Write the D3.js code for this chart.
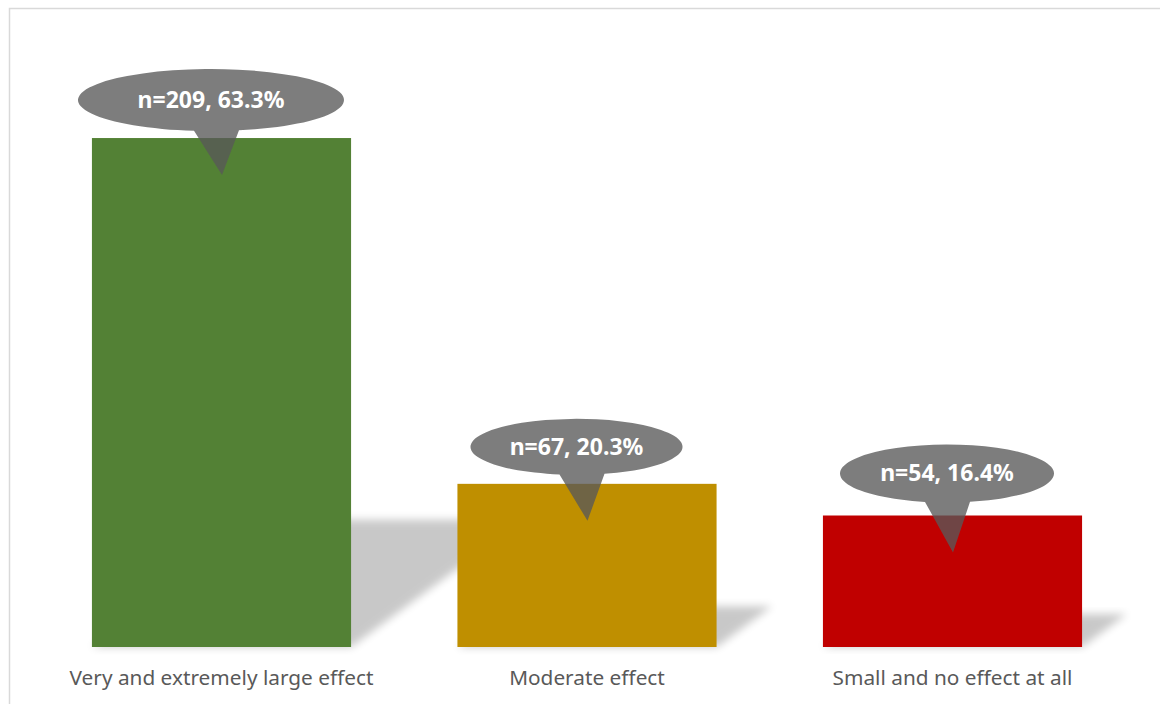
<!DOCTYPE html>
<html>
<head>
<meta charset="utf-8">
<script src="https://cdn.jsdelivr.net/npm/d3@7"></script>
<style>
  body { margin: 0; background: #fff; }
  svg { display: block; }
</style>
</head>
<body>
<div id="container"></div>
<script>
/* DATA */
const categories = ["Very and extremely large effect", "Moderate effect", "Small and no effect at all"];
const counts = [209, 67, 54];
const percents = [63.3, 20.3, 16.4];
const barColors = ["#538135", "#BF8F00", "#C00000"];

/* CONSTANTS */
const width = 1160;
const height = 704;
const baseline = 647;

// callout layout (ellipse size and offset from the pointer tip)
const calloutRx = [133, 106, 107];
const calloutRy = [31, 28, 29];
const calloutDx = [-11, -11, -6];
const calloutDy = [-75, -74, -79];

const svg = d3.select("#container")
  .append("svg")
  .attr("width", width)
  .attr("height", height);

const defs = svg.append("defs");
defs.append("filter")
  .attr("id", "blur")
  .attr("x", "-20%").attr("y", "-20%")
  .attr("width", "140%").attr("height", "140%")
  .append("feGaussianBlur")
  .attr("stdDeviation", 4);

// chart border
svg.append("rect")
  .attr("x", 9.5)
  .attr("y", 8.5)
  .attr("width", width)
  .attr("height", height)
  .attr("fill", "none")
  .attr("stroke", "#d9d9d9")
  .attr("stroke-width", 1.5);

/* SCALES */
const xScale = d3.scaleBand()
  .domain(categories)
  .range([38.75, 1135.25])
  .paddingInner(0.291)
  .paddingOuter(0.1455);

const yScale = d3.scaleLinear()
  .domain([0, 250])
  .range([baseline, 38.2]);

const data = categories.map((c, i) => ({
  cat: c, count: counts[i], pct: percents[i], color: barColors[i], i
}));

/* SHADOWS */
svg.selectAll(".shadow")
  .data(data)
  .join("path")
  .attr("class", "shadow")
  .attr("d", d => {
    const x0 = xScale(d.cat), x1 = x0 + xScale.bandwidth();
    const h = baseline - yScale(d.count);
    const dy = h * 0.25, dx = h * 0.34;
    return `M${x0},${baseline}L${x1},${baseline}L${x1 + dx},${baseline - dy}L${x0 + dx},${baseline - dy}Z`;
  })
  .attr("fill", "#000")
  .attr("opacity", 0.21)
  .attr("filter", "url(#blur)");

/* BARS */
svg.selectAll(".bar")
  .data(data)
  .join("rect")
  .attr("class", "bar")
  .attr("x", d => xScale(d.cat))
  .attr("y", d => yScale(d.count))
  .attr("width", xScale.bandwidth())
  .attr("height", d => baseline - yScale(d.count))
  .attr("fill", d => d.color);

/* CATEGORY LABELS */
svg.selectAll(".cat")
  .data(data)
  .join("text")
  .attr("class", "cat")
  .attr("x", d => xScale(d.cat) + xScale.bandwidth() / 2)
  .attr("y", 685)
  .attr("text-anchor", "middle")
  .style("font-family", "Noto Sans, sans-serif")
  .style("font-size", "20.8px")
  .style("fill", "#595959")
  .text(d => d.cat);

/* CALLOUTS */
const callouts = svg.selectAll(".callout")
  .data(data)
  .join("g")
  .attr("class", "callout");

callouts.append("path")
  .attr("d", d => {
    const tx = xScale(d.cat) + xScale.bandwidth() / 2 + 0.5;
    const ty = yScale(d.count) + 37;
    const rx = calloutRx[d.i], ry = calloutRy[d.i];
    const cx = tx + calloutDx[d.i], cy = ty + calloutDy[d.i];
    const bl = tx - 28 - cx, br = tx + 17 - cx;
    const yl = cy + ry * Math.sqrt(1 - (bl / rx) ** 2);
    const yr = cy + ry * Math.sqrt(1 - (br / rx) ** 2);
    return `M${cx + bl},${yl}A${rx},${ry} 0 1 1 ${cx + br},${yr}L${tx},${ty}Z`;
  })
  .attr("fill", "#595959")
  .attr("fill-opacity", 0.78);

callouts.append("text")
  .attr("x", d => xScale(d.cat) + xScale.bandwidth() / 2 + 0.5 + calloutDx[d.i])
  .attr("y", d => yScale(d.count) + 37 + calloutDy[d.i] + 8)
  .attr("text-anchor", "middle")
  .style("font-family", "Noto Sans, sans-serif")
  .style("font-weight", "bold")
  .style("font-size", "23px")
  .style("fill", "#fff")
  .text(d => `n=${d.count}, ${d.pct.toFixed(1)}%`);
</script>
</body>
</html>
